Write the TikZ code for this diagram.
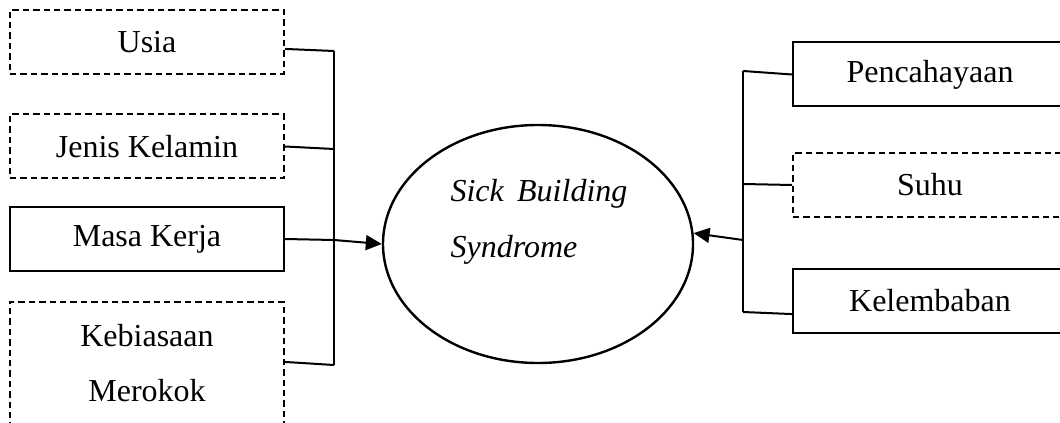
\documentclass[tikz,border=0pt]{standalone}
\usepackage{fontspec}
\setmainfont{Liberation Serif}
\usetikzlibrary{arrows.meta,shapes.geometric}
\begin{document}
\begin{tikzpicture}[x=0.375pt,y=-0.375pt,
  box/.style={draw, line width=0.75pt, minimum width=274*0.375pt,
    minimum height=64*0.375pt, inner sep=0pt, align=center,
    font=\fontsize{12}{20.5}\selectfont},
  dbox/.style={box, dash pattern=on 2.4pt off 1.5pt},
  link/.style={line width=0.75pt},
  arr/.style={link, -{Triangle[length=6pt,width=5.6pt]}}]
\useasboundingbox (0,0) rectangle (1060,423);
\clip (0,0) rectangle (1060,423);

% factors on the left
\node[dbox] (usia)    at (147,42)    {Usia};
\node[dbox] (jenis)   at (147,146.5) {Jenis Kelamin};
\node[box]  (masa)    at (147,239)   {Masa Kerja};
\node[dbox, minimum height=122*0.375pt] (rokok) at (147,363) {Kebiasaan\\Merokok};

% factors on the right
\node[box]  (cahaya)  at (930,74.5)  {Pencahayaan};
\node[dbox] (suhu)    at (930,185)   {Suhu};
\node[box]  (lembab)  at (930,301)   {Kelembaban};

% outcome
\node[draw, ellipse, line width=0.9pt, minimum width=310*0.375pt,
      minimum height=238*0.375pt, inner sep=0pt] (sbs) at (538,244) {};
\node[anchor=base west, inner sep=0pt, font=\fontsize{12}{14}\selectfont\itshape]
  (sbsA) at (450,202) {Sick\hspace{5pt}Building};
\node[anchor=base west, inner sep=0pt, font=\fontsize{12}{14}\selectfont\itshape]
  (sbsB) at (450,257) {Syndrome};

% left bus
\coordinate (bU) at (334,51);
\coordinate (bJ) at (334,149);
\coordinate (bM) at (334,240);
\coordinate (bK) at (334,365);
\draw[link] (bU) -- (bK);
\draw[link] ([yshift=-2.6pt]usia.east) -- (bU);
\draw[link] (jenis.east) -- (bJ);
\draw[link] (masa.east) -- (bM);
\draw[link] ([yshift=0.4pt]rokok.east) -- (bK);
\draw[arr] (bM) -- (sbs.west);

% right bus
\coordinate (rP) at (743,71);
\coordinate (rS) at (743,184);
\coordinate (rA) at (743,240);
\coordinate (rK) at (743,312);
\draw[link] (rP) -- (rK);
\draw[link] (cahaya.west) -- (rP);
\draw[link] (suhu.west) -- (rS);
\draw[link] ([yshift=-4.9pt]lembab.west) -- (rK);
\draw[arr] (rA) -- (sbs.4);
\end{tikzpicture}
\end{document}
